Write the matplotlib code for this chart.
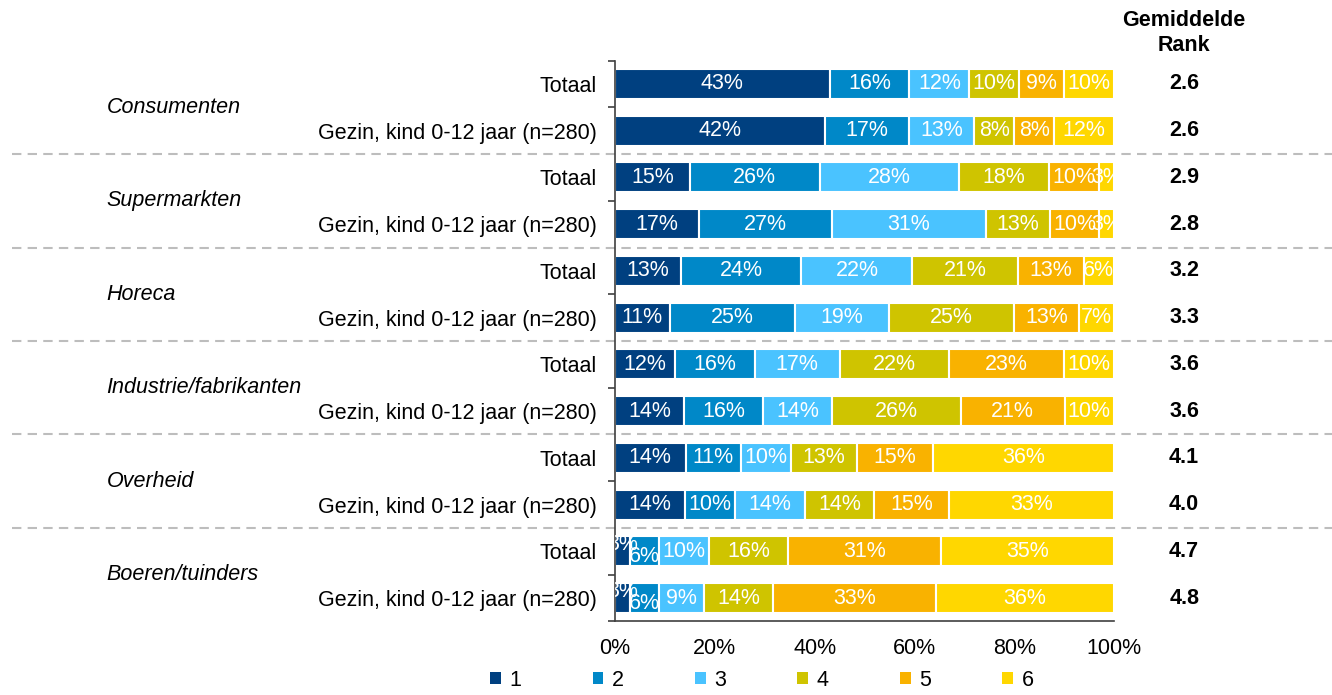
import numpy as np
import matplotlib.pyplot as plt
from matplotlib.transforms import blended_transform_factory
from matplotlib.patches import Patch

plt.rcParams['font.family'] = ['Liberation Sans', 'DejaVu Sans']
plt.rcParams['font.size'] = 15.5

# data: share of respondents per rank (1..6), two rows per group
groups = ['Consumenten', 'Supermarkten', 'Horeca', 'Industrie/fabrikanten', 'Overheid', 'Boeren/tuinders']
rows = ['Totaal', 'Gezin, kind 0-12 jaar (n=280)']
ranks = ['1', '2', '3', '4', '5', '6']
pct = np.array([
    [43, 16, 12, 10, 9, 10],
    [42, 17, 13, 8, 8, 12],
    [15, 26, 28, 18, 10, 3],
    [17, 27, 31, 13, 10, 3],
    [13, 24, 22, 21, 13, 6],
    [11, 25, 19, 25, 13, 7],
    [12, 16, 17, 22, 23, 10],
    [14, 16, 14, 26, 21, 10],
    [14, 11, 10, 13, 15, 36],
    [14, 10, 14, 14, 15, 33],
    [3, 6, 10, 16, 31, 35],
    [3, 6, 9, 14, 33, 36],
])
mean_rank = ['2.6', '2.6', '2.9', '2.8', '3.2', '3.3', '3.6', '3.6', '4.1', '4.0', '4.7', '4.8']
colors = ['#004080', '#0088C8', '#4AC3FF', '#CFC400', '#F9B200', '#FFD700']

fig = plt.figure(figsize=(13.32, 6.95), dpi=100)
ax = fig.add_axes([0.4617, 0.1059, 0.3746, 0.8069])

n = len(pct)
y = np.arange(n)
# 100% stacked: normalise each row
shares = pct / pct.sum(axis=1, keepdims=True) * 100
left = np.zeros(n)
for j in range(6):
    ax.barh(y, shares[:, j], left=left, height=0.64, color=colors[j],
            edgecolor='white', linewidth=1.5, label=ranks[j])
    for i in range(n):
        dy = 0
        if pct[i, j] <= 6 and j == 0:
            dy = -0.15
        elif pct[i, j] <= 6 and j == 1:
            dy = 0.12
        ax.text(left[i] + shares[i, j] / 2, y[i] + dy, f'{pct[i, j]}%',
                ha='center', va='center', color='white', clip_on=True)
    left += shares[:, j]

ax.set_xlim(0, 100)
ax.set_ylim(n - 0.5, -0.5)
ax.set_xticks(np.arange(0, 101, 20))
ax.set_xticklabels([f'{v}%' for v in range(0, 101, 20)])
ax.tick_params(axis='x', length=0, pad=12)

ax.set_yticks(np.arange(-0.5, n, 1))
ax.set_yticklabels([])
ax.set_yticks(y, minor=True)
ax.set_yticklabels(rows * len(groups), minor=True)
ax.tick_params(axis='y', which='major', length=5, width=1.2, color='#404040')
ax.tick_params(axis='y', which='minor', length=0, pad=13)

for s in ['top', 'right']:
    ax.spines[s].set_visible(False)
for s in ['left', 'bottom']:
    ax.spines[s].set_color('#404040')
    ax.spines[s].set_linewidth(1.2)

# group separators across the full width
tr = blended_transform_factory(fig.transFigure, ax.transData)
for k in range(1, len(groups)):
    ax.plot([0.009, 1.0], [2 * k - 0.5, 2 * k - 0.5], transform=tr, clip_on=False,
            color='#BDBDBD', lw=1.5, dashes=(4.5, 3))

# group names
for k, g in enumerate(groups):
    ax.text(0.08, 2 * k + 0.5, g, transform=tr, ha='left', va='center', style='italic')

# mean rank column
for i in range(n):
    ax.text(0.889, y[i], mean_rank[i], transform=tr, ha='center', va='center', fontweight='bold')
fig.text(0.889, 0.953, 'Gemiddelde\nRank', ha='center', va='center', fontweight='bold',
         linespacing=1.25)

handles = [Patch(facecolor=c, edgecolor='none') for c in colors]
fig.legend(handles, ranks, loc='lower center', bbox_to_anchor=(0.572, -0.022), ncol=6,
           frameon=False, handlelength=0.5, handleheight=0.5, handletextpad=0.4,
           columnspacing=3.3)

fig.savefig('out.png', dpi=100)
